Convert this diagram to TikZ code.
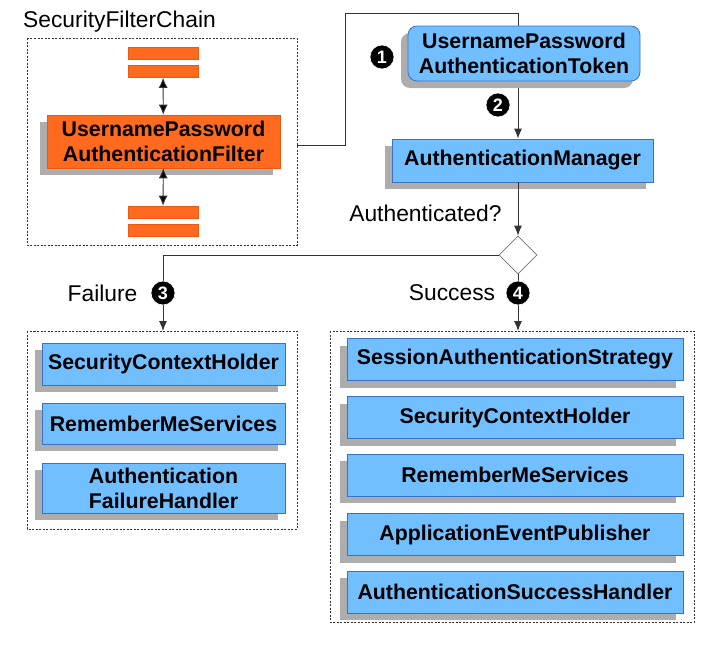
\documentclass[tikz,border=0pt]{standalone}
\usepackage{fontspec}
\setmainfont{Liberation Sans}
\usetikzlibrary{arrows.meta,shapes.geometric,shadows}
\definecolor{filterorange}{HTML}{FF6A1F}
\definecolor{filterborder}{HTML}{E85A10}
\definecolor{beanblue}{HTML}{72BFFF}
\definecolor{beanborder}{HTML}{3A70C8}

\begin{document}
\begin{tikzpicture}[x=1pt,y=-1pt,
    shade/.style={drop shadow={shadow xshift=-7pt,shadow yshift=-7pt,fill=black!32,opacity=1}},
    filter/.style={rectangle,fill=filterorange,draw=filterborder,line width=.6pt,inner sep=0pt},
    bean/.style={rectangle,fill=beanblue,draw=beanborder,line width=.8pt,inner sep=0pt,shade,
      align=center,font=\fontsize{21.3}{25}\selectfont\bfseries},
    badge/.style={circle,fill=black,draw=white,line width=.6pt,inner sep=0pt,minimum size=24pt,
      text=white,font=\fontsize{18}{18}\selectfont\bfseries},
    label/.style={font=\fontsize{22.8}{26}\selectfont},
    frame/.style={draw=black!80,line width=.8pt,dash pattern=on 2pt off 1.5pt},
    flow/.style={draw=black!80,line width=.9pt},
    tip/.style={-{Latex[length=10pt,width=8pt]}},
    twotip/.style={{Latex[length=10pt,width=9pt]}-{Latex[length=10pt,width=9pt]}}]

        \useasboundingbox (0,0) rectangle (705,645);

        % frames
        \draw[frame] (27,38)  rectangle (297,245);
        \draw[frame] (27,331) rectangle (297,529);
        \draw[frame] (330,331) rectangle (694,622);
        \coordinate (chain) at (297,145);

        \node[label] (chainlabel) at (119.5,22) {SecurityFilterChain};

        % filter chain
        \begin{scope}[every node/.style={filter,minimum width=70pt,minimum height=12pt}]
          \node (f1) at (163,53)  {};
          \node (f2) at (163,71.5) {};
          \node (f3) at (163,212) {};
          \node (f4) at (163,230) {};
        \end{scope}
        \node[filter,shade,minimum width=233pt,minimum height=53pt,align=center,
          font=\fontsize{21.3}{25}\selectfont\bfseries] (upaf) at (163.5,141.5)
          {UsernamePassword\\AuthenticationFilter};

        \path[flow,twotip] (f2) edge (upaf);
        \path[flow,twotip] (upaf) edge (f3);

        % authentication
        \node[bean,minimum width=261pt,minimum height=43pt] (manager) at (522.5,160.5) {AuthenticationManager};
        \coordinate (c1) at (345,145);
        \coordinate (c2) at (345,13);
        \coordinate (c3) at (518,13);
        \draw[flow,tip] (chain) -- (c1) -- (c2) -- (c3) -- (c3 |- manager.north);
        \node[bean,rounded corners=9pt,minimum width=232pt,minimum height=55pt] (token) at (524,53.5)
          {UsernamePassword\\AuthenticationToken};

        \node[diamond,draw=black!55,fill=white,line width=.8pt,inner sep=0pt,
          minimum width=38pt,minimum height=38pt] (decide) at (518,255) {};
        \draw[flow,tip] (manager.south -| decide) -- (decide.north);
        \node[label,anchor=east] (authlabel) at (505,213) {Authenticated?};

        % failure
        \coordinate (fail) at (163,255);
        \draw[flow,tip] (decide.west) -- (fail) -- (163,331);
        \node[label] (faillabel) at (102.5,293) {Failure};

        \begin{scope}[every node/.style={bean,minimum width=243pt}]
          \node[minimum height=42pt] (fa1) at (163.5,364)   {SecurityContextHolder};
          \node[minimum height=41pt] (fa2) at (163.5,423.5) {RememberMeServices};
          \node[minimum height=50pt] (fa3) at (163.5,488)   {Authentication\\FailureHandler};
        \end{scope}

        % success
        \draw[flow,tip] (decide.south) -- (518,331);
        \node[label] (successlabel) at (452,293) {Success};

        \begin{scope}[every node/.style={bean,minimum width=336pt,minimum height=42pt}]
          \node (su1) at (515,359.5) {SessionAuthenticationStrategy};
          \node (su2) at (515,417.5) {SecurityContextHolder};
          \node (su3) at (515,475)   {RememberMeServices};
          \node (su4) at (515,534.5) {ApplicationEventPublisher};
          \node (su5) at (515,592)   {AuthenticationSuccessHandler};
        \end{scope}

        % steps
        \node[badge] (b1) at (382,57)  {1};
        \node[badge] (b2) at (498,105) {2};
        \node[badge] (b3) at (163,293) {3};
        \node[badge] (b4) at (518,293) {4};

      \end{tikzpicture}
\end{document}
